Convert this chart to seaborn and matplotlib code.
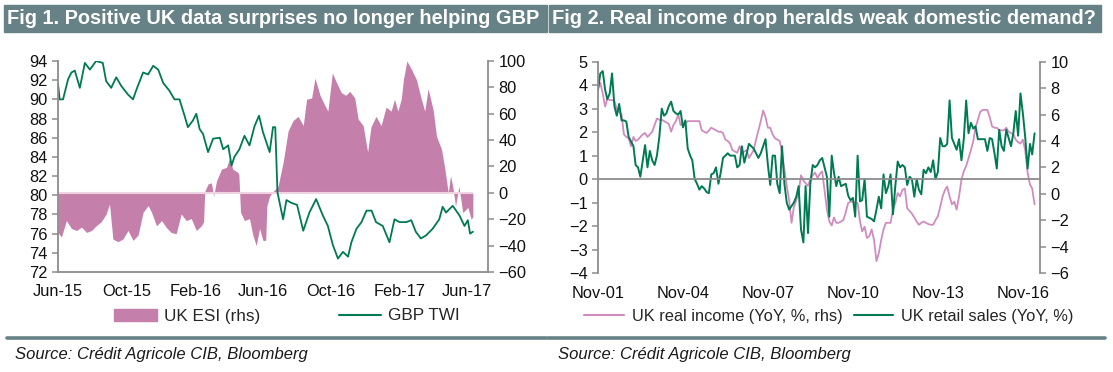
import matplotlib
matplotlib.use("Agg")
import matplotlib.pyplot as plt
import matplotlib.dates as mdates
from matplotlib.patches import Rectangle, Patch
from matplotlib.lines import Line2D
import seaborn as sns
import pandas as pd

# ---- Fig 1 data ----
gbp_dates = ["2015-06-01", "2015-06-04", "2015-06-10", "2015-06-19", "2015-06-25",
             "2015-07-01", "2015-07-10", "2015-07-19", "2015-07-28", "2015-08-08",
             "2015-08-20", "2015-08-26", "2015-09-04", "2015-09-13", "2015-09-22",
             "2015-10-04", "2015-10-13", "2015-10-19", "2015-10-31", "2015-11-09",
             "2015-11-18", "2015-11-27", "2015-12-06", "2015-12-17", "2015-12-26",
             "2016-01-04", "2016-01-13", "2016-01-19", "2016-01-28", "2016-02-03",
             "2016-02-09", "2016-02-15", "2016-02-24", "2016-03-04", "2016-03-16",
             "2016-03-22", "2016-03-31", "2016-04-06", "2016-04-11", "2016-04-20",
             "2016-04-29", "2016-05-08", "2016-05-17", "2016-05-25", "2016-06-01",
             "2016-06-13", "2016-06-19", "2016-06-23", "2016-06-27", "2016-07-07",
             "2016-07-13", "2016-07-22", "2016-08-01", "2016-08-12", "2016-08-23",
             "2016-09-04", "2016-09-16", "2016-09-25", "2016-10-04", "2016-10-13",
             "2016-10-22", "2016-10-31", "2016-11-06", "2016-11-15", "2016-11-24",
             "2016-12-03", "2016-12-12", "2016-12-20", "2017-01-01", "2017-01-13",
             "2017-01-22", "2017-01-31", "2017-02-12", "2017-02-21", "2017-03-01",
             "2017-03-10", "2017-03-19", "2017-03-31", "2017-04-12", "2017-04-18",
             "2017-04-24", "2017-05-06", "2017-05-18", "2017-05-27", "2017-06-02",
             "2017-06-06", "2017-06-11"]
gbp_twi = [91.6, 90.0, 90.0, 92.1, 92.8, 93.0, 91.2, 93.8, 93.1, 94.0,
           93.8, 91.9, 91.2, 92.3, 91.4, 90.5, 90.0, 91.0, 92.8, 92.6,
           93.5, 93.1, 91.7, 90.9, 90.0, 90.0, 88.3, 87.1, 87.8, 88.5,
           86.9, 86.4, 84.5, 85.9, 86.0, 84.8, 85.2, 83.1, 84.0, 84.8,
           86.2, 85.2, 87.2, 88.3, 86.6, 84.5, 87.1, 87.1, 80.3, 77.5,
           79.5, 79.2, 79.0, 76.3, 78.2, 79.6, 77.9, 76.8, 74.8, 73.4,
           74.1, 73.6, 75.1, 76.5, 77.2, 78.4, 78.4, 77.2, 76.8, 75.1,
           77.5, 77.2, 77.2, 77.4, 76.2, 75.5, 75.8, 76.5, 77.5, 78.8,
           78.2, 78.9, 77.9, 76.8, 77.4, 76.0, 76.2]

esi_dates = ["2015-06-01", "2015-06-07", "2015-06-16", "2015-06-25", "2015-07-04",
             "2015-07-13", "2015-07-22", "2015-07-31", "2015-08-08", "2015-08-17",
             "2015-08-26", "2015-09-01", "2015-09-07", "2015-09-16", "2015-09-25",
             "2015-10-04", "2015-10-13", "2015-10-22", "2015-10-31", "2015-11-09",
             "2015-11-15", "2015-11-24", "2015-12-03", "2015-12-11", "2015-12-20",
             "2015-12-29", "2016-01-07", "2016-01-16", "2016-01-25", "2016-02-03",
             "2016-02-12", "2016-02-16", "2016-02-18", "2016-02-24", "2016-03-01",
             "2016-03-05", "2016-03-10", "2016-03-19", "2016-03-28", "2016-04-03",
             "2016-04-08", "2016-04-17", "2016-04-19", "2016-04-22", "2016-04-29",
             "2016-05-08", "2016-05-14", "2016-05-20", "2016-05-26", "2016-06-01",
             "2016-06-06", "2016-06-08", "2016-06-13", "2016-06-19", "2016-06-28",
             "2016-07-07", "2016-07-16", "2016-07-25", "2016-08-03", "2016-08-12",
             "2016-08-18", "2016-08-27", "2016-09-02", "2016-09-11", "2016-09-20",
             "2016-09-25", "2016-10-03", "2016-10-10", "2016-10-19", "2016-10-27",
             "2016-11-03", "2016-11-12", "2016-11-18", "2016-11-27", "2016-12-05",
             "2016-12-11", "2016-12-20", "2016-12-29", "2017-01-07", "2017-01-16",
             "2017-01-22", "2017-01-28", "2017-02-03", "2017-02-07", "2017-02-13",
             "2017-02-21", "2017-03-02", "2017-03-11", "2017-03-17", "2017-03-23",
             "2017-04-01", "2017-04-07", "2017-04-16", "2017-04-22", "2017-04-28",
             "2017-05-02", "2017-05-06", "2017-05-11", "2017-05-17", "2017-05-24",
             "2017-06-02", "2017-06-08", "2017-06-11"]
uk_esi = [-30, -33.5, -21, -27, -28.5, -26, -30, -28.5, -25, -22,
          -16, -8.5, -35, -37, -35, -28.5, -36, -32, -14.7, -9.6,
          -14.7, -25, -21, -26, -30, -31, -16, -21, -19.5, -28.5,
          -25, -22, 1, 6.8, 7.6, -2.5, 9, 18, 19.4, 27,
          18, 15.6, 14, -14.7, -21, -19.5, -32, -40, -27, -36,
          -36, -10, -2.5, 1, 5, 23, 47, 55, 58, 51,
          71, 72, 87, 74, 66, 62, 91, 84, 76, 74,
          77, 72, 56, 51, 31, 50, 58, 51, 65, 62,
          71, 62, 71, 86, 100, 94, 86, 71, 62, 79,
          63, 43, 33, 18, 0, 13, 5, -10, 5, -15,
          -11, -20, -18]

fig1_ticks = ["2015-06-01", "2015-10-01", "2016-02-01", "2016-06-01",
              "2016-10-01", "2017-02-01", "2017-06-01"]

# ---- Fig 2 data: monthly, Nov-01 onwards ----
retail_sales = [3.8, 4.5, 4.6, 3.8, 3.4, 3.65, 4.5, 3.1, 2.7, 3.2,
                2.5, 2.5, 2.45, 1.8, 1.6, 1.4, 0.6, 0.5, 0.1, 0.8,
                1.45, 0.5, 1.2, 0.8, 0.6, 1.0, 1.8, 3.0, 2.7, 2.8,
                3.1, 3.3, 2.9, 2.8, 2.75, 2.9, 2.2, 2.5, 1.3, 1.0,
                0.8, 0.0, -0.2, -0.45, -0.3, -0.4, -0.55, -0.6, 0.2, 0.25,
                0.5, -0.2, 0.25, 0.9, 1.0, 1.1, 1.0, 1.0, 1.0, 0.5,
                0.6, 1.4, 0.7, 1.1, 1.5, 1.4, 1.3, 1.1, 0.9, 1.1,
                1.4, 1.7, 0.6, -0.25, 1.0, 1.0, -0.2, -0.6, 1.4, -0.2,
                -1.0, -1.3, -1.15, -1.0, -0.75, -0.3, -2.15, -2.7, -0.3, -2.3,
                -0.2, 0.6, 0.5, 0.6, 0.8, 0.9, 0.5, 0.1, -1.6, 1.0,
                0.3, -0.3, 0.1, -0.3, -0.25, -0.2, -0.7, -0.9, -0.8, -1.6,
                1.0, -0.95, -0.9, 0.0, -1.6, -1.65, -1.7, -1.8, -1.3, -0.75,
                -1.25, 0.2, -0.6, -0.3, 0.2, -1.5, -0.3, 0.75, 0.5, 0.6,
                0.5, -0.25, 0.1, 0.0, -0.75, 0.0, -0.45, -0.65, 0.4, 0.25,
                0.5, 0.3, 0.8, 0.0, 0.3, 1.75, 1.4, 1.4, 1.5, 3.35,
                1.75, 1.5, 1.25, 1.7, 0.8, 1.7, 3.35, 1.95, 2.4, 2.15,
                2.25, 1.7, 1.7, 1.7, 1.7, 1.2, 1.75, 1.7, 1.1, 0.45,
                2.1, 1.4, 1.2, 2.1, 1.75, 1.4, 1.95, 2.9, 1.85, 3.65,
                2.8, 1.8, 0.45, 1.5, 1.05, 1.95]
real_income = [8.0, 8.4, 7.6, 6.6, 7.2, 7.1, 7.1, 7.0, 6.4, 6.2,
               6.0, 4.5, 4.3, 4.2, 3.6, 4.3, 4.0, 4.1, 4.3, 4.5,
               4.6, 4.3, 4.5, 4.7, 5.2, 5.7, 5.6, 5.6, 5.5, 5.4,
               5.3, 4.7, 5.2, 5.5, 6.0, 5.2, 5.3, 5.3, 5.5, 5.5,
               5.5, 5.5, 5.5, 5.5, 4.8, 4.7, 4.6, 4.8, 5.0, 4.9,
               4.8, 4.7, 4.7, 4.6, 4.1, 4.0, 3.8, 3.3, 3.2, 3.1,
               3.6, 3.1, 3.2, 3.3, 2.7, 3.0, 3.3, 4.1, 4.8, 5.5,
               6.3, 5.8, 5.0, 5.0, 4.5, 4.2, 4.1, 4.0, 3.1, 1.8,
               0.6, -0.5, -2.2, -1.0, -0.5, 0.05, 1.4, 1.0, 0.8, 0.6,
               1.1, 1.4, 1.6, 1.2, 1.5, 1.7, 0.2, -1.2, -2.1, -2.4,
               -1.8, -2.2, -2.2, -2.1, -2.0, -1.4, -0.7, -0.6, -0.6, -0.7,
               -0.7, -2.1, -2.85, -2.5, -3.35, -3.2, -2.7, -3.5, -5.1, -4.5,
               -3.5, -2.7, -2.2, -2.2, -2.2, -1.2, -0.7, 0.05, -0.2, 0.3,
               0.4, -1.1, -1.3, -1.5, -1.8, -2.1, -2.35, -2.2, -2.1, -2.2,
               -2.3, -2.35, -2.35, -2.0, -1.7, -1.0, -0.2, 0.3, 0.55, -0.2,
               -0.8, -0.6, -1.2, -0.2, 1.05, 1.7, 2.1, 2.7, 3.3, 4.0,
               5.0, 5.6, 6.2, 6.35, 6.35, 6.35, 5.8, 5.1, 5.0, 5.0,
               4.8, 4.8, 4.8, 5.0, 4.7, 4.6, 4.5, 4.1, 3.9, 3.8,
               4.1, 3.3, 1.6, 0.7, 0.4, -0.8]
fig2_ticks = ["2001-11-01", "2004-11-01", "2007-11-01", "2010-11-01",
              "2013-11-01", "2016-11-01"]

titles = ["Fig 1. Positive UK data surprises no longer helping GBP",
          "Fig 2. Real income drop heralds weak domestic demand?"]
source = "Source: Crédit Agricole CIB, Bloomberg"

PINK = "#c47fab"
PINK_LINE = "#d08cbf"
GREEN = "#007a52"
HEAD = "#678286"
GREY = "#8c8c8c"

sns.set_theme(style="white")
plt.rcParams["font.family"] = ["Liberation Sans", "DejaVu Sans"]

df1 = pd.DataFrame({"date": pd.to_datetime(gbp_dates), "GBP TWI": gbp_twi})
df_esi = pd.DataFrame({"date": pd.to_datetime(esi_dates), "UK ESI": uk_esi})
months_ri = pd.date_range("2001-11-01", periods=len(real_income), freq="MS")
months_rs = pd.date_range("2001-11-01", periods=len(retail_sales), freq="MS")
df_ri = pd.DataFrame({"date": months_ri, "val": real_income})
df_rs = pd.DataFrame({"date": months_rs, "val": retail_sales})

fig = plt.figure(figsize=(11.13, 3.72), dpi=100)

# header bars and footer rules
W, H = 1113.0, 372.0
for x0, x1, t in [(4, 547, titles[0]), (549, 1101, titles[1])]:
    fig.patches.append(Rectangle((x0 / W, 1 - 32 / H), (x1 - x0) / W, 27 / H,
                                 transform=fig.transFigure, color=HEAD, zorder=0))
    fig.text((x0 + 3) / W, 1 - 18.5 / H, t, color="white", fontsize=14.4,
             fontweight="bold", va="center", ha="left")
for x0, x1, sx in [(7, 546, 15), (548, 1105, 558)]:
    fig.add_artist(Line2D([x0 / W, x1 / W], [1 - 338 / H, 1 - 338 / H],
                          transform=fig.transFigure, color=HEAD, lw=2.6))
    fig.text(sx / W, 1 - 355 / H, source, fontsize=12, style="italic",
             va="center", ha="left", color="#1a1a1a")


def style_axis(a, sides):
    for s in ["top", "bottom", "left", "right"]:
        a.spines[s].set_visible(s in sides)
        a.spines[s].set_color(GREY)
        a.spines[s].set_linewidth(1.3)
    a.tick_params(colors=GREY, labelcolor="#111111", labelsize=11.8,
                  length=4, width=1.1, direction="out")
    a.grid(False)


# ---- Fig 1 ----
ax = fig.add_axes([58 / W, 1 - 272 / H, (488 - 58) / W, (272 - 61) / H])
ax2 = ax.twinx()
ax2.fill_between(df_esi["date"], df_esi["UK ESI"], 0, color=PINK, lw=0)
ax2.hlines(0, df_esi["date"].iloc[0], df_esi["date"].iloc[-1],
           color="#efd3e3", lw=1.5)
sns.lineplot(data=df1, x="date", y="GBP TWI", ax=ax, color=GREEN, lw=1.3)
ax.set_zorder(ax2.get_zorder() + 1)
ax.patch.set_visible(False)
ax.set_ylim(72, 94)
ax.set_yticks(range(72, 95, 2))
ax2.set_ylim(-60, 100)
ax2.set_yticks(range(-60, 101, 20))
ax.set_xlim(pd.Timestamp("2015-06-01"), pd.Timestamp("2017-07-08"))
ax.set_xticks(pd.to_datetime(fig1_ticks))
ax.xaxis.set_major_formatter(mdates.DateFormatter("%b-%y"))
ax.set_xlabel("")
ax.set_ylabel("")
ax2.set_ylabel("")
style_axis(ax, ["left", "bottom"])
style_axis(ax2, ["right"])
ax.tick_params(axis="x", pad=5)

h1 = [Patch(color=PINK, label="UK ESI (rhs)"),
      Line2D([], [], color=GREEN, lw=1.5, label="GBP TWI")]
fig.legend(handles=h1, loc="center", bbox_to_anchor=(287 / W, 1 - 316 / H),
           ncol=2, frameon=False, handlelength=2.5,
           handleheight=0.7, handletextpad=0.4, columnspacing=4.6,
           prop={"size": 12.3})

# ---- Fig 2 ----
bx = fig.add_axes([598 / W, 1 - 273 / H, (1040 - 598) / W, (273 - 61.7) / H])
bx2 = bx.twinx()
sns.lineplot(data=df_ri, x="date", y="val", ax=bx2, color=PINK_LINE, lw=1.3)
sns.lineplot(data=df_rs, x="date", y="val", ax=bx, color=GREEN, lw=1.4)
bx.set_zorder(bx2.get_zorder() + 1)
bx.patch.set_visible(False)
bx.set_ylim(-4, 5)
bx.set_yticks(range(-4, 6))
bx2.set_ylim(-6, 10)
bx2.set_yticks(range(-6, 11, 2))
bx.set_xlim(pd.Timestamp("2001-11-01"), pd.Timestamp("2017-06-10"))
bx.set_xticks(pd.to_datetime(fig2_ticks))
bx.xaxis.set_major_formatter(mdates.DateFormatter("%b-%y"))
for a in (bx, bx2):
    a.set_xlabel("")
    a.set_ylabel("")
style_axis(bx, ["left", "bottom"])
style_axis(bx2, ["right"])
bx.spines["bottom"].set_position(("data", 0))
bx.tick_params(axis="x", labelbottom=False)
bx2.xaxis.set_visible(True)
bx2.tick_params(axis="x", length=0, labelbottom=True, pad=9)

h2 = [Line2D([], [], color=PINK_LINE, lw=1.5, label="UK real income (YoY, %, rhs)"),
      Line2D([], [], color=GREEN, lw=1.5, label="UK retail sales (YoY, %)")]
fig.legend(handles=h2, loc="center", bbox_to_anchor=(829 / W, 1 - 316 / H),
           ncol=2, frameon=False, handlelength=2.4, handletextpad=0.5,
           columnspacing=0.7, prop={"size": 11.8})

fig.savefig("out.png", dpi=100)
